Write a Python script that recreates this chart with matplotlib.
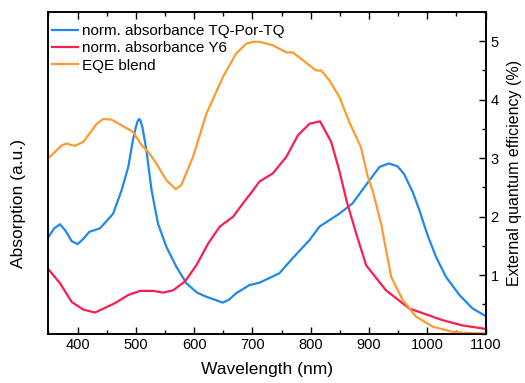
import matplotlib.pyplot as plt
from matplotlib.ticker import MultipleLocator

plt.rcParams["font.family"] = ["Liberation Sans", "DejaVu Sans"]

# TQ-Por-TQ absorbance (a.u.)
wl_tq = [350, 360, 370, 380, 390, 400, 410, 420, 438.5, 461, 475.5, 487, 495, 500, 503, 505.6,
         508, 511.5, 518, 527, 538, 552.5, 569.7, 586.8, 605, 621, 649, 660, 672, 695, 712, 746,
         769, 798, 815, 849, 872, 900.6, 918, 934, 949, 960, 975, 986, 1000.5, 1015, 1032, 1055,
         1077.6, 1100]
abs_tq = [1.65, 1.80, 1.87, 1.75, 1.58, 1.53, 1.62, 1.74, 1.80, 2.05, 2.45, 2.85, 3.31, 3.53, 3.63, 3.67,
          3.64, 3.52, 3.14, 2.45, 1.88, 1.48, 1.14, 0.86, 0.70, 0.63, 0.53, 0.58, 0.69, 0.83, 0.87, 1.03,
          1.29, 1.60, 1.83, 2.05, 2.23, 2.62, 2.85, 2.91, 2.86, 2.73, 2.42, 2.12, 1.68, 1.31, 0.97, 0.66,
          0.43, 0.30]

# Y6 absorbance (a.u.)
wl_y6 = [350, 370, 390, 410, 430, 464, 487, 507, 530, 547, 564, 584, 604, 624, 644, 667,
         684, 701, 712, 735, 758, 778, 798, 816, 835, 849, 862, 878, 895, 929, 969,
         1026, 1060, 1100]
abs_y6 = [1.10, 0.86, 0.54, 0.41, 0.36, 0.52, 0.66, 0.73, 0.73, 0.70, 0.74, 0.89, 1.17, 1.54,
          1.83, 2.00, 2.23, 2.45, 2.60, 2.74, 3.02, 3.39, 3.59, 3.63, 3.28, 2.79, 2.25, 1.71,
          1.17, 0.74, 0.43, 0.23, 0.14, 0.08]

# EQE of the blend (%)
wl_eqe = [350, 373, 381, 395.5, 410, 433, 444, 458, 481, 495, 510, 521, 535, 552.5, 568.5,
          578, 598, 621, 649.5, 672, 689.5, 701, 712, 735, 758, 769, 786, 809, 818, 832,
          849, 866, 886, 898, 906, 920.7, 938, 958, 980.6, 1009, 1043, 1070, 1100]
eqe = [3.00, 3.22, 3.25, 3.21, 3.28, 3.59, 3.67, 3.66, 3.53, 3.45, 3.22, 3.11, 2.91, 2.62, 2.47,
       2.54, 3.02, 3.76, 4.39, 4.79, 4.96, 4.99, 4.99, 4.93, 4.81, 4.81, 4.68, 4.50, 4.50, 4.33,
       4.05, 3.62, 3.19, 2.68, 2.45, 1.88, 0.97, 0.57, 0.29, 0.12, 0.03, 0.01, 0.0]

blue = "#1E88F0"
red = "#F81E50"
orange = "#FF9A30"

fig = plt.figure(figsize=(5.25, 3.83), dpi=100)
ax = fig.add_axes([0.0922, 0.129, 0.8328, 0.8397])
ax2 = ax.twinx()

l1, = ax.plot(wl_tq, abs_tq, color=blue, lw=1.6, label="norm. absorbance TQ-Por-TQ")
l2, = ax.plot(wl_y6, abs_y6, color=red, lw=1.6, label="norm. absorbance Y6")
l3, = ax2.plot(wl_eqe, eqe, color=orange, lw=1.6, label="EQE blend")

ax.set_xlim(350, 1100)
ax.set_ylim(0, 5.5)
ax2.set_ylim(0, 5.5)

ax.xaxis.set_major_locator(MultipleLocator(100))
ax.xaxis.set_minor_locator(MultipleLocator(50))
ax.tick_params(axis="x", which="both", direction="in", top=True, labelsize=10.5, width=1)
ax.tick_params(axis="x", which="major", length=5)
ax.tick_params(axis="x", which="minor", length=3)
ax.set_yticks([])

ax2.yaxis.set_major_locator(MultipleLocator(1))
ax2.yaxis.set_minor_locator(MultipleLocator(0.5))
ax2.set_yticks([1, 2, 3, 4, 5])
ax2.tick_params(axis="y", which="both", direction="in", labelsize=10.5, width=1)
ax2.tick_params(axis="y", which="major", length=5)
ax2.tick_params(axis="y", which="minor", length=3)

for a in (ax, ax2):
    for s in a.spines.values():
        s.set_linewidth(1.2)

ax.set_xlabel("Wavelength (nm)", fontsize=12.5)
ax.xaxis.set_label_coords(0.5, -0.088)
ax.set_ylabel("Absorption (a.u.)", fontsize=12.5)
ax.yaxis.set_label_coords(-0.052, 0.406)
ax2.set_ylabel("External quantum efficiency (%)", fontsize=11.5)
ax2.yaxis.set_label_coords(1.048, 0.5)

ax.legend(handles=[l1, l2, l3], loc="upper left", frameon=False, fontsize=11,
          handlelength=1.7, handletextpad=0.25, labelspacing=0.22,
          borderpad=0, borderaxespad=0, bbox_to_anchor=(0.008, 0.963))

fig.savefig("out.png", dpi=100)
